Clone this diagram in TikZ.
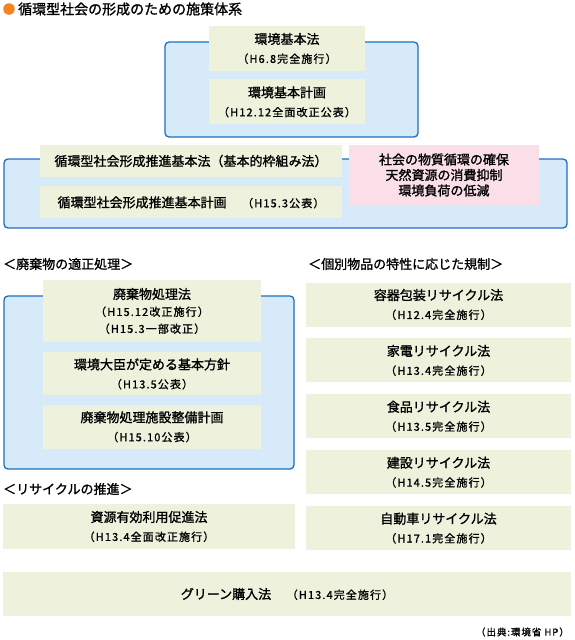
\documentclass[tikz,border=0pt]{standalone}
\usepackage{fontspec}
\newfontfamily\jp{Noto Sans CJK JP}[FakeBold=1.3]
\newfontfamily\jpsub{Noto Sans CJK JP}[FakeBold=1.1,LetterSpace=10]
\usetikzlibrary{positioning}
\definecolor{framecol}{RGB}{30,110,190}
\definecolor{framefill}{RGB}{214,234,250}
\definecolor{boxfill}{RGB}{238,241,220}
\definecolor{pinkfill}{RGB}{250,222,232}
\definecolor{dotcol}{RGB}{245,130,30}
\newcommand\subtxt[1]{{\jpsub\fontsize{11}{13}\selectfont #1}}

\begin{document}
\begin{tikzpicture}[
x=1pt,y=-1pt,
font=\jp\fontsize{13}{19}\selectfont,
frame/.style={
draw=framecol,line width=1.3pt,fill=framefill,
rounded corners=4pt,inner sep=0pt
},
lawbox/.style={
fill=boxfill,align=center,inner sep=0pt,
minimum width=156pt,minimum height=45pt
},
goalbox/.style={
fill=pinkfill,align=center,inner sep=0pt,
minimum width=190pt,minimum height=60pt
},
heading/.style={anchor=west,inner sep=0pt}
]
\useasboundingbox (0,0) rectangle (575,640);

% TITLE
\node[circle,fill=dotcol,minimum size=11.5pt,inner sep=0pt] (dot) at (9,9) {};
\node[heading,right=3pt of dot,font=\jp\fontsize{14}{16}\selectfont] (title) {循環型社会の形成のための施策体系};

% ENVIRONMENT BASIC LAW
\node[frame,minimum width=253pt,minimum height=95pt] (envframe) at (291.5,89.5) {};
\node[lawbox] (envlaw) at (287,48.5)
{環境基本法\\\subtxt{（H6.8完全施行）}};
\node[lawbox,below=8pt of envlaw] (envplan)
{環境基本計画\\\subtxt{（H12.12全面改正公表）}};

% SOUND MATERIAL-CYCLE SOCIETY
\node[frame,minimum width=563pt,minimum height=69pt] (cycleframe) at (285.5,193.5) {};
\node[lawbox,minimum width=302pt,minimum height=32pt] (cyclelaw) at (191,161)
{循環型社会形成推進基本法（基本的枠組み法）};
\node[lawbox,minimum width=302pt,minimum height=32pt,below=9pt of cyclelaw] (cycleplan)
{循環型社会形成推進基本計画\hspace{1.2em}\subtxt{（H15.3公表）}};
\node[goalbox] (goals) at (444,175)
{社会の物質循環の確保\\[-3.5pt]天然資源の消費抑制\\[-3.5pt]環境負荷の低減};

% WASTE MANAGEMENT
\node[heading] (wastehead) at (3,264) {＜廃棄物の適正処理＞};
\node[frame,minimum width=290pt,minimum height=173pt] (wasteframe) at (149,382.5) {};
\node[lawbox,minimum width=218pt,minimum height=62pt] (wastelaw) at (152,311)
{廃棄物処理法\\[-2pt]\subtxt{（H15.12改正施行）}\\[-2pt]\subtxt{（H15.3一部改正）}};
\node[lawbox,minimum width=218pt,minimum height=43pt,below=10pt of wastelaw] (wastepolicy)
{環境大臣が定める基本方針\\\subtxt{（H13.5公表）}};
\node[lawbox,minimum width=218pt,minimum height=44pt,below=9pt of wastepolicy] (wasteplan)
{廃棄物処理施設整備計画\\\subtxt{（H15.10公表）}};

% RECYCLING
\node[heading] (recyclehead) at (3,489) {＜リサイクルの推進＞};
\node[lawbox,minimum width=292pt] (resource) at (149,526.5)
{資源有効利用促進法\\\subtxt{（H13.4全面改正施行）}};

% PRODUCT-SPECIFIC LAWS
\node[heading] (producthead) at (308,264) {＜個別物品の特性に応じた規制＞};
\node[lawbox,minimum width=265pt,minimum height=44pt] (packaging) at (438.5,304.5)
{容器包装リサイクル法\\\subtxt{（H12.4完全施行）}};
\node[lawbox,minimum width=265pt,minimum height=44pt,below=11.5pt of packaging] (appliance)
{家電リサイクル法\\\subtxt{（H13.4完全施行）}};
\node[lawbox,minimum width=265pt,minimum height=44pt,below=11.5pt of appliance] (food)
{食品リサイクル法\\\subtxt{（H13.5完全施行）}};
\node[lawbox,minimum width=265pt,minimum height=44pt,below=11.5pt of food] (construction)
{建設リサイクル法\\\subtxt{（H14.5完全施行）}};
\node[lawbox,minimum width=265pt,minimum height=44pt,below=11.5pt of construction] (vehicle)
{自動車リサイクル法\\\subtxt{（H17.1完全施行）}};

% GREEN PURCHASING
\node[lawbox,minimum width=568pt,minimum height=44pt] (green) at (287,594)
{グリーン購入法\hspace{1.2em}\subtxt{（H13.4完全施行）}};

% SOURCE
\node[anchor=east,inner sep=0pt] (source) at (569,632)
{\jpsub\fontsize{9.5}{12}\selectfont （出典:環境省 HP）};

\end{tikzpicture}
\end{document}
